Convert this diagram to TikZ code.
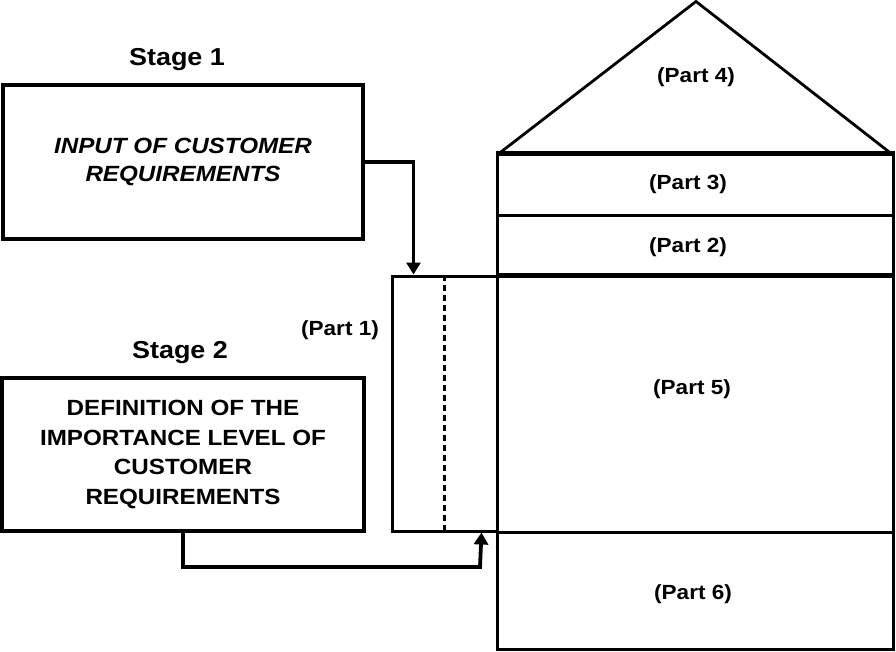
\documentclass[tikz,border=0pt]{standalone}
\usepackage{fontspec}
\setmainfont{Liberation Sans}[FakeStretch=1.1]
\usetikzlibrary{arrows.meta,calc}
\begin{document}
\begin{tikzpicture}[x=1pt,y=-1pt,
  stagebox/.style={draw,line width=4pt,inner sep=0pt,align=center},
  stagelbl/.style={font=\fontsize{24.5}{28}\selectfont\bfseries},
  partlbl/.style={font=\fontsize{20.5}{22}\selectfont\bfseries},
  sect/.style={draw,line width=3pt,inner sep=0pt},
  arr/.style={line width=3.8pt,-{Triangle[width=14pt,length=12pt]}}]
\useasboundingbox (0,0) rectangle (896,652);
% stage boxes
\node[stagelbl] (st1) at (177,60) {Stage 1};
\node[stagebox,minimum width=360pt,minimum height=154pt,
  font=\fontsize{22}{28}\selectfont\bfseries\itshape] (s1) at (183,162)
  {INPUT OF CUSTOMER\\REQUIREMENTS};
\node[stagelbl] (st2) at (180,353) {Stage 2};
\node[stagebox,minimum width=362pt,minimum height=153pt,
  font=\fontsize{22}{29.5}\selectfont\bfseries] (s2) at (183,454.5)
  {DEFINITION OF THE\\IMPORTANCE LEVEL OF\\CUSTOMER\\REQUIREMENTS};
% roof
\coordinate (rl) at (497,155);
\coordinate (rt) at (696,1.5);
\coordinate (rr) at (893,155);
\draw[line width=2.8pt,line join=miter] (rl) -- (rt) -- (rr);
% house sections
\node[sect,minimum width=396pt,minimum height=61pt] (p3) at (695,185.5) {};
\node[sect,minimum width=396pt,minimum height=60pt] (p2) at (695,246) {};
\node[sect,minimum width=396pt,minimum height=256pt] (p5) at (695,404) {};
\node[sect,minimum width=396pt,minimum height=117pt] (p6) at (695,590.5) {};
\node[sect,minimum width=105pt,minimum height=255pt] (p1) at (444.5,403.5) {};
\draw[line width=4.5pt] (p3.north west) -- (p3.north east);
\draw[line width=4pt] (p5.north west) -- (p5.north east);
\draw[line width=2.5pt,dash pattern=on 6pt off 4pt] (p1.north) -- (p1.south);
% part labels
\node[partlbl] (l4) at (696,77) {(Part 4)};
\node[partlbl] (l3) at (688,184) {(Part 3)};
\node[partlbl] (l2) at (688,247) {(Part 2)};
\node[partlbl] (l1) at (340,330) {(Part 1)};
\node[partlbl] (l5) at (692,389) {(Part 5)};
\node[partlbl] (l6) at (693,594) {(Part 6)};
% connectors
\coordinate (c2) at (480,567);
\draw[arr] (s1.east) -| ($(p1.north west)+(23,0)$);
\draw[arr] (s2.south) |- (c2) -- ($(p1.south east)+(-17,0)$);
\end{tikzpicture}
\end{document}
